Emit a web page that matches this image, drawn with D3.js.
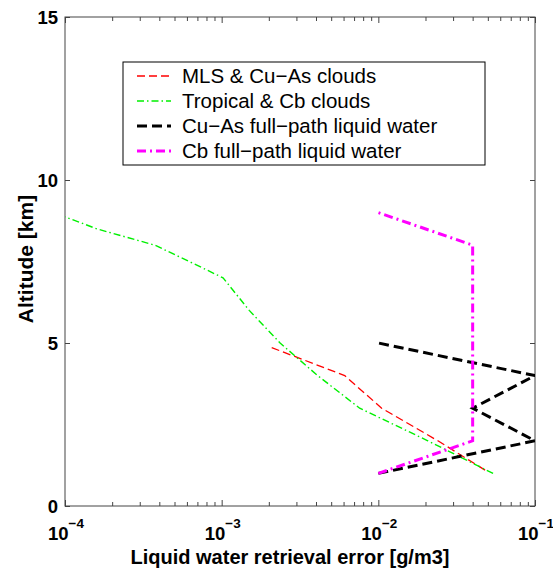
<!DOCTYPE html>
<html>
<head>
<meta charset="utf-8">
<script src="https://cdn.jsdelivr.net/npm/d3@7"></script>
<style>
  html, body { margin: 0; padding: 0; background: #fff; }
  svg { display: block; font-family: "Liberation Sans", Arial, Helvetica, sans-serif; }
</style>
</head>
<body>
<svg id="chart" width="553" height="571"></svg>
<script>
// Altitude profiles of liquid water retrieval error
const redAlt   = [1.1, 2, 3, 4, 4.9];
const redErr   = [0.048, 0.024, 0.0105, 0.0061, 0.00198];

const greenAlt = [1.0, 2, 3, 4, 5, 6, 7, 7.5, 8, 8.5, 8.87];
const greenErr = [0.054, 0.0207, 0.0076, 0.0041, 0.00236, 0.0015, 0.00102, 0.00062, 0.000375, 0.00016, 0.0001];

const blackAlt = [1, 2, 3, 4, 5];
const blackErr = [0.01, 0.1, 0.04, 0.1, 0.01];

const magAlt   = [1, 2, 3, 4, 5, 6, 7, 8, 9];
const magErr   = [0.01, 0.04, 0.04, 0.04, 0.04, 0.04, 0.04, 0.04, 0.01];

const seriesNames = ["MLS & Cu\u2212As clouds", "Tropical & Cb clouds",
                     "Cu\u2212As full\u2212path liquid water", "Cb full\u2212path liquid water"];

const yTicks = [0, 5, 10, 15];
const xMajor = [1e-4, 1e-3, 1e-2, 1e-1];
const xExpLabels = ["\u22124", "\u22123", "\u22122", "\u22121"];

const xTitle = "Liquid water retrieval error [g/m3]";
const yTitle = "Altitude [km]";

const svg = d3.select("#chart");
const L = 65, R = 535, T = 17, B = 506;

const x = d3.scaleLog().domain([1e-4, 1e-1]).range([L, R]);
const y = d3.scaleLinear().domain([0, 15]).range([B, T]);

svg.append("rect").attr("width", 553).attr("height", 571).attr("fill", "#fff");

svg.append("defs").append("clipPath").attr("id", "plotClip")
  .append("rect").attr("x", L).attr("y", T).attr("width", R - L).attr("height", B - T);

// Box + inward ticks on all four sides
const axisColor = "#444";
const minorTicks = x.ticks();
const isMajor = d => xMajor.some(m => Math.abs(Math.log10(d) - Math.log10(m)) < 1e-6);
function styleAxis(g) {
  g.select(".domain").remove();
  g.selectAll(".tick line").attr("stroke", axisColor).attr("stroke-width", 1);
  g.selectAll(".tick text").remove();
}
svg.append("g").attr("transform", `translate(0,${B})`)
  .call(d3.axisBottom(x).tickValues(minorTicks).tickSize(-4)).call(styleAxis)
  .selectAll(".tick line").filter(isMajor).attr("y2", -6);
svg.append("g").attr("transform", `translate(0,${T})`)
  .call(d3.axisTop(x).tickValues(minorTicks).tickSize(-4)).call(styleAxis)
  .selectAll(".tick line").filter(isMajor).attr("y2", 6);
svg.append("g").attr("transform", `translate(${L},0)`)
  .call(d3.axisLeft(y).tickValues(yTicks).tickSize(-5)).call(styleAxis);
svg.append("g").attr("transform", `translate(${R},0)`)
  .call(d3.axisRight(y).tickValues(yTicks).tickSize(-5)).call(styleAxis);

svg.append("rect").attr("x", L).attr("y", T).attr("width", R - L).attr("height", B - T)
  .attr("fill", "none").attr("stroke", axisColor).attr("stroke-width", 1);

// Tick labels
svg.append("g").selectAll("text").data(yTicks).join("text")
  .attr("x", L - 7).attr("y", d => y(d) + 6.5)
  .attr("text-anchor", "end").attr("font-size", 18.5).attr("font-weight", "bold")
  .attr("fill", "#000").text(d => d);

const xl = svg.append("g").selectAll("text").data(xMajor).join("text")
  .attr("x", d => x(d) + 1).attr("y", 540)
  .attr("text-anchor", "middle").attr("font-size", 18.5).attr("font-weight", "bold").attr("fill", "#000");
xl.append("tspan").text("10");
xl.append("tspan").attr("dy", -12).attr("font-size", 13.5).text((d, i) => xExpLabels[i]);

// Axis titles
svg.append("text").attr("x", 290).attr("y", 564).attr("text-anchor", "middle")
  .attr("font-size", 20).attr("font-weight", "bold").attr("fill", "#000").text(xTitle);
svg.append("text").attr("transform", "translate(33,259) rotate(-90)").attr("text-anchor", "middle")
  .attr("font-size", 21).attr("font-weight", "bold").attr("fill", "#000").text(yTitle);

// Series
const series = [
  { alt: redAlt,   err: redErr,   color: "#ff0000", width: 1.3, dash: "8,4" },
  { alt: greenAlt, err: greenErr, color: "#00f000", width: 1.4, dash: "7,3,1.5,3" },
  { alt: blackAlt, err: blackErr, color: "#000000", width: 3,   dash: "10,5" },
  { alt: magAlt,   err: magErr,   color: "#ff00ff", width: 3,   dash: "9,4,2,4" }
];

const line = d3.line().x(d => x(d[0])).y(d => y(d[1]));
const plot = svg.append("g").attr("clip-path", "url(#plotClip)");
series.forEach(s => {
  plot.append("path")
    .datum(s.err.map((e, i) => [e, s.alt[i]]))
    .attr("d", line)
    .attr("fill", "none").attr("stroke", s.color).attr("stroke-width", s.width)
    .attr("stroke-dasharray", s.dash);
});

// Legend
const lg = svg.append("g");
lg.append("rect").attr("x", 123).attr("y", 62).attr("width", 362).attr("height", 103)
  .attr("fill", "#fff").attr("stroke", "#000").attr("stroke-width", 1);
const rowY = [76, 101, 126, 151];
series.forEach((s, i) => {
  lg.append("line").attr("x1", 137).attr("x2", 171).attr("y1", rowY[i]).attr("y2", rowY[i])
    .attr("stroke", s.color).attr("stroke-width", s.width).attr("stroke-dasharray", s.dash);
  lg.append("text").attr("x", 182).attr("y", rowY[i] + 7)
    .attr("font-size", 20.5).attr("fill", "#000").text(seriesNames[i]);
});
</script>
</body>
</html>
